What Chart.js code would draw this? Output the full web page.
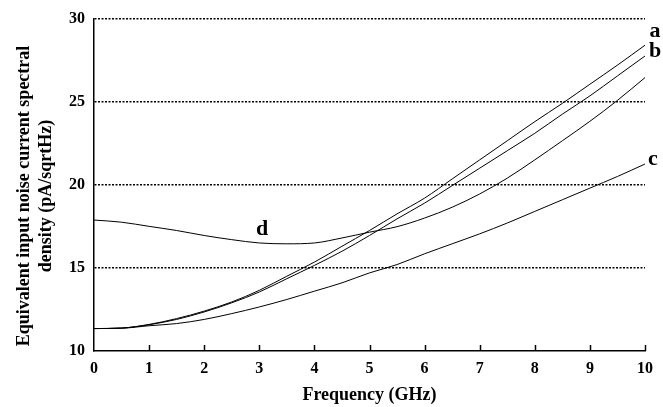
<!DOCTYPE html>
<html>
<head>
<meta charset="utf-8">
<script src="https://cdn.jsdelivr.net/npm/chart.js@4"></script>
<style>
  html, body { margin: 0; padding: 0; background: #fff; }
  #wrap { width: 663px; height: 407px; }
</style>
</head>
<body>
<div id="wrap"><canvas id="noiseChart"></canvas></div>
<script>
// Equivalent input noise current vs frequency, four designs a-d

const freq = [0, 0.5, 1, 1.5, 2, 2.5, 3, 3.5, 4, 4.5, 5, 5.5, 6, 6.5, 7, 7.5, 8, 8.5, 9, 9.5, 10];

const curveA = [11.35, 11.38, 11.6, 11.95, 12.4, 12.95, 13.65, 14.5, 15.35, 16.3, 17.25, 18.25, 19.2, 20.35, 21.5, 22.65, 23.8, 24.9, 26.05, 27.2, 28.4];
const curveB = [11.35, 11.38, 11.58, 11.9, 12.35, 12.9, 13.55, 14.35, 15.15, 16.0, 16.95, 17.95, 18.9, 19.95, 21.0, 22.05, 23.1, 24.25, 25.35, 26.55, 27.75];
const curveC = [11.35, 11.37, 11.52, 11.65, 11.9, 12.25, 12.65, 13.1, 13.6, 14.1, 14.7, 15.2, 15.85, 16.45, 17.05, 17.7, 18.4, 19.1, 19.8, 20.5, 21.25];
const curveD = [17.88, 17.75, 17.5, 17.25, 16.95, 16.7, 16.5, 16.45, 16.5, 16.8, 17.15, 17.48, 18.0, 18.65, 19.45, 20.4, 21.5, 22.65, 23.82, 25.08, 26.45];

const curveNames = ['a', 'b', 'c', 'd'];
const yTickValues = [10, 15, 20, 25, 30];

const serif = "'Liberation Serif', 'Times New Roman', serif";

function toPoints(values) {
    return values.map((v, i) => ({ x: freq[i], y: v }));
}

// Extra drawing: inward x ticks, curve letters, two-line y title
const annotations = {
    id: 'annotations',
    afterDraw(chart) {
        const ctx = chart.ctx;
        const xs = chart.scales.x;
        const ys = chart.scales.y;
        const area = chart.chartArea;

        ctx.save();
        ctx.strokeStyle = '#000';
        ctx.lineWidth = 1.5;
        for (let v = 1; v <= 10; v++) {
            const px = Math.round(xs.getPixelForValue(v)) + 0.5;
            ctx.beginPath();
            ctx.moveTo(px, area.bottom);
            ctx.lineTo(px, area.bottom - 6);
            ctx.stroke();
        }

        // curve letters
        ctx.fillStyle = '#000';
        ctx.font = 'bold 22px ' + serif;
        ctx.textAlign = 'center';
        ctx.textBaseline = 'middle';
        const ends = [curveA, curveB, curveC];
        const offsets = [[10, -14], [10, -5], [8, -5]];
        ends.forEach((series, i) => {
            const px = xs.getPixelForValue(freq[freq.length - 1]);
            const py = ys.getPixelForValue(series[series.length - 1]);
            ctx.fillText(curveNames[i], px + offsets[i][0], py + offsets[i][1]);
        });
        ctx.fillText(curveNames[3], xs.getPixelForValue(3.05), ys.getPixelForValue(17.15) - 3);

        // y axis title
        ctx.font = 'bold 18px ' + serif;
        ctx.translate(24, 196);
        ctx.rotate(-Math.PI / 2);
        ctx.fillText('Equivalent input noise current spectral', 0, 0);
        ctx.fillText('density (pA/sqrtHz)', 0, 22);
        ctx.restore();
    }
};

document.addEventListener('DOMContentLoaded', function() {
    const canvas = document.getElementById('noiseChart');

    new Chart(canvas, {
        type: 'line',
        data: {
            datasets: [curveA, curveB, curveC, curveD].map((series, i) => ({
                label: curveNames[i],
                data: toPoints(series),
                borderColor: '#000',
                borderWidth: 1,
                pointRadius: 0,
                fill: false,
                cubicInterpolationMode: 'monotone'
            }))
        },
        options: {
            responsive: true,
            maintainAspectRatio: false,
            animation: false,
            devicePixelRatio: 1,
            layout: {
                padding: { top: 10, right: 18, left: 0, bottom: 0 }
            },
            plugins: {
                legend: { display: false },
                tooltip: { enabled: false }
            },
            scales: {
                x: {
                    type: 'linear',
                    min: 0,
                    max: 10,
                    afterFit: function(scale) { scale.height = 56; },
                    grid: { display: false, drawTicks: false },
                    border: { display: true, color: '#000', width: 1.5 },
                    ticks: {
                        stepSize: 1,
                        padding: 8,
                        color: '#000',
                        font: { family: serif, size: 16, weight: 'bold' }
                    },
                    title: {
                        display: true,
                        text: 'Frequency (GHz)',
                        color: '#000',
                        padding: { top: 0, bottom: 1 },
                        font: { family: serif, size: 18, weight: 'bold' }
                    }
                },
                y: {
                    min: 10,
                    max: 30,
                    afterFit: function(scale) { scale.width = 94; },
                    afterBuildTicks: function(scale) {
                        scale.ticks = yTickValues.map(v => ({ value: v }));
                    },
                    grid: {
                        drawTicks: false,
                        lineWidth: 1.6,
                        color: function(c) {
                            return c.tick && c.tick.value === 10 ? 'rgba(0,0,0,0)' : '#000';
                        }
                    },
                    border: { display: true, color: '#000', width: 1.5, dash: [2, 1.5] },
                    ticks: {
                        padding: 9,
                        color: '#000',
                        font: { family: serif, size: 16, weight: 'bold' }
                    }
                }
            }
        },
        plugins: [annotations]
    });
});
</script>
</body>
</html>
